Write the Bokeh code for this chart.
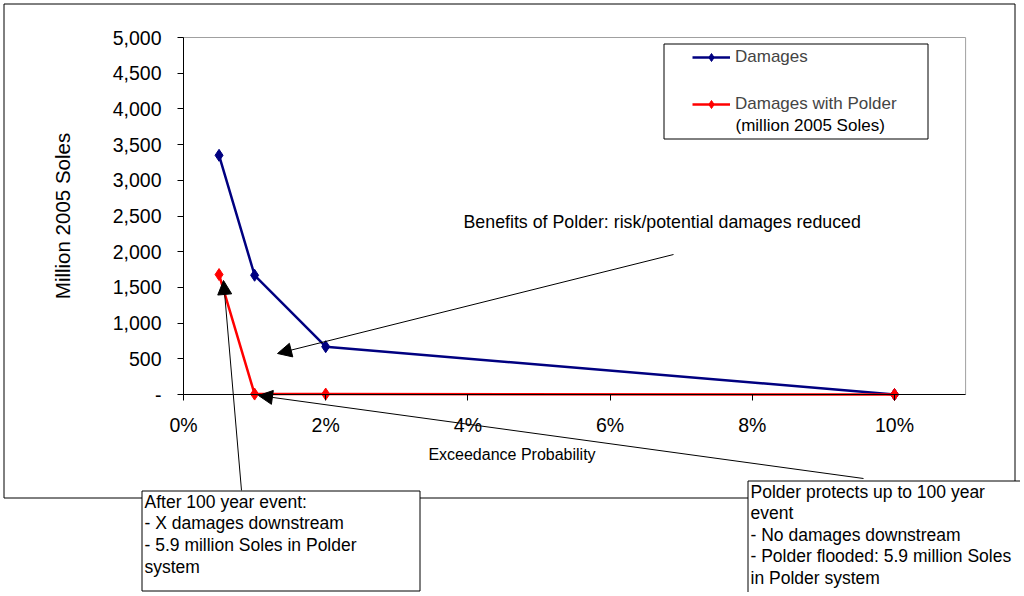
from bokeh.plotting import figure
from bokeh.models import (Range1d, FixedTicker, NumeralTickFormatter, Legend, LegendItem,
                          BoxAnnotation, Label, Arrow, NormalHead)
from bokeh.embed import file_html
from bokeh.resources import INLINE

# ---- data ----
prob = [0.005, 0.01, 0.02, 0.10]
damages = [3350, 1670, 670, 0]
damages_polder = [1680, 6, 6, 0]
x_ticks = [0, 0.02, 0.04, 0.06, 0.08, 0.10]
y_ticks = [0, 500, 1000, 1500, 2000, 2500, 3000, 3500, 4000, 4500, 5000]
series_names = ["Damages", "Damages with Polder"]
legend_note = "(million 2005 Soles)"
y_title = "Million 2005 Soles"
x_title = "Exceedance Probability"
note_benefits = "Benefits of Polder: risk/potential damages  reduced"
note_after = "After  100 year event:\n- X damages downstream\n- 5.9 million Soles in Polder\nsystem"
note_protects = ("Polder protects up to 100 year\nevent\n- No damages downstream\n"
                 "- Polder flooded: 5.9 million Soles\nin Polder system")

# ---- layout constants (pixels) ----
W, H = 1020, 592
X0_PX, X10_PX = 183, 894      # pixel of 0% and 10%
Y0_PX, Y5K_PX = 394, 37       # pixel of 0 and 5000
x_per_px = 0.10 / (X10_PX - X0_PX)
y_per_px = 5000 / (Y0_PX - Y5K_PX)
x_range = Range1d(-X0_PX * x_per_px, (W - X0_PX) * x_per_px)
y_range = Range1d(-(H - Y0_PX) * y_per_px, 5000 + Y5K_PX * y_per_px)
X_MAX = 0.11


def sy(y):  # page y (from top) -> screen y (from bottom)
    return H - y


FONT = "Liberation Sans"
BLUE = "#000080"
RED = "#ff0000"

p = figure(width=W, height=H, output_backend="svg", toolbar_location=None,
           x_range=x_range, y_range=y_range, min_border=0,
           background_fill_color="white", border_fill_color="white")
p.grid.visible = False
p.outline_line_color = None

# plot-area outline (grey)
p.add_layout(BoxAnnotation(left=0, right=X_MAX, bottom=0, top=5000, level="underlay",
                           fill_color=None, line_color="#a0a0a0", line_alpha=1,
                           line_width=1))

# axes, positioned at the data origin
p.xaxis.fixed_location = 0
p.yaxis.fixed_location = 0
p.xaxis.bounds = (0, X_MAX)
p.yaxis.bounds = (0, 5000)
p.xaxis.ticker = FixedTicker(ticks=x_ticks)
p.xaxis.formatter = NumeralTickFormatter(format="0%")
p.yaxis.ticker = FixedTicker(ticks=y_ticks)
p.yaxis.formatter = NumeralTickFormatter(format="0,0")
p.yaxis.major_label_overrides = {0: "-"}
for ax in (p.xaxis[0], p.yaxis[0]):
    ax.axis_line_color = "black"
    ax.major_tick_line_color = "black"
    ax.minor_tick_line_color = None
    ax.major_tick_in = 0
    ax.major_tick_out = 6
    ax.major_label_text_font = FONT
    ax.major_label_text_font_size = "19.5px"
    ax.major_label_text_color = "black"
p.xaxis.major_label_standoff = 13
p.yaxis.major_label_standoff = 16
p.yaxis.axis_label = y_title
p.yaxis.axis_label_text_font = FONT
p.yaxis.axis_label_text_font_size = "20.5px"
p.yaxis.axis_label_text_font_style = "normal"
p.yaxis.axis_label_text_color = "black"
p.yaxis.axis_label_standoff = 36

# series
l1 = p.line(prob, damages, line_color=BLUE, line_width=2.5)
s1 = p.scatter(prob, damages, marker="diamond", size=12, fill_color=BLUE, line_color=BLUE)
l2 = p.line(prob, damages_polder, line_color=RED, line_width=2.5)
s2 = p.scatter(prob, damages_polder, marker="diamond", size=12, fill_color=RED, line_color=RED)


def sbox(left, right, top, bottom, **kw):
    return BoxAnnotation(left=left, right=right, top=sy(top), bottom=sy(bottom),
                         left_units="screen", right_units="screen",
                         top_units="screen", bottom_units="screen",
                         line_color="black", line_alpha=1, line_width=1, **kw)


# outer chart frame
p.add_layout(sbox(3.5, 1014.5, 3.5, 497.5, fill_color=None))

# legend
p.add_layout(sbox(663.5, 927.5, 43.5, 138.5, fill_color="white", fill_alpha=1))
legend = Legend(items=[LegendItem(label=series_names[0], renderers=[l1, s1]),
                       LegendItem(label=series_names[1], renderers=[l2, s2])],
                location=(692, sy(114)), padding=0, margin=0, spacing=27,
                glyph_width=38, glyph_height=20, label_height=20, label_standoff=5,
                label_text_font=FONT, label_text_font_size="17px",
                border_line_color=None, background_fill_alpha=0)
p.add_layout(legend)
p.add_layout(Label(x=735, y=sy(125), x_units="screen", y_units="screen", text=legend_note,
                   text_font=FONT, text_font_size="17px", text_baseline="middle",
                   text_color="black"))

# x axis title (offset as in original)
p.add_layout(Label(x=511.5, y=sy(454), x_units="screen", y_units="screen", text=x_title,
                   text_font=FONT, text_font_size="16px", text_align="center",
                   text_baseline="middle", text_color="black"))

# benefits note + arrow
p.add_layout(Label(x=463, y=sy(221), x_units="screen", y_units="screen", text=note_benefits,
                   text_font=FONT, text_font_size="17.8px", text_baseline="middle",
                   text_color="black"))
head = dict(size=14, fill_color="black", line_color="black")


def sarrow(x0, y0, x1, y1):
    return Arrow(x_start=x0, y_start=sy(y0), x_end=x1, y_end=sy(y1),
                 start_units="screen", end_units="screen",
                 line_color="black", line_width=1, end=NormalHead(**head))


p.add_layout(sarrow(673, 254, 277, 353))

# annotation boxes
p.add_layout(sbox(141.5, 419.5, 490.5, 590.5, fill_color="white", fill_alpha=1))
p.add_layout(sbox(747.5, 1060, 480.5, 640, fill_color="white", fill_alpha=1))

p.add_layout(sarrow(241, 490, 223, 280))
p.add_layout(sarrow(863, 478, 258, 395))

p.add_layout(Label(x=144, y=sy(491), x_units="screen", y_units="screen", text=note_after,
                   text_font=FONT, text_font_size="17.5px", text_baseline="top",
                   text_line_height=1.09, text_color="black"))
p.add_layout(Label(x=750, y=sy(481), x_units="screen", y_units="screen", text=note_protects,
                   text_font=FONT, text_font_size="17.5px", text_baseline="top",
                   text_line_height=1.075, text_color="black"))

open("out.html", "w").write(file_html(p, INLINE))
